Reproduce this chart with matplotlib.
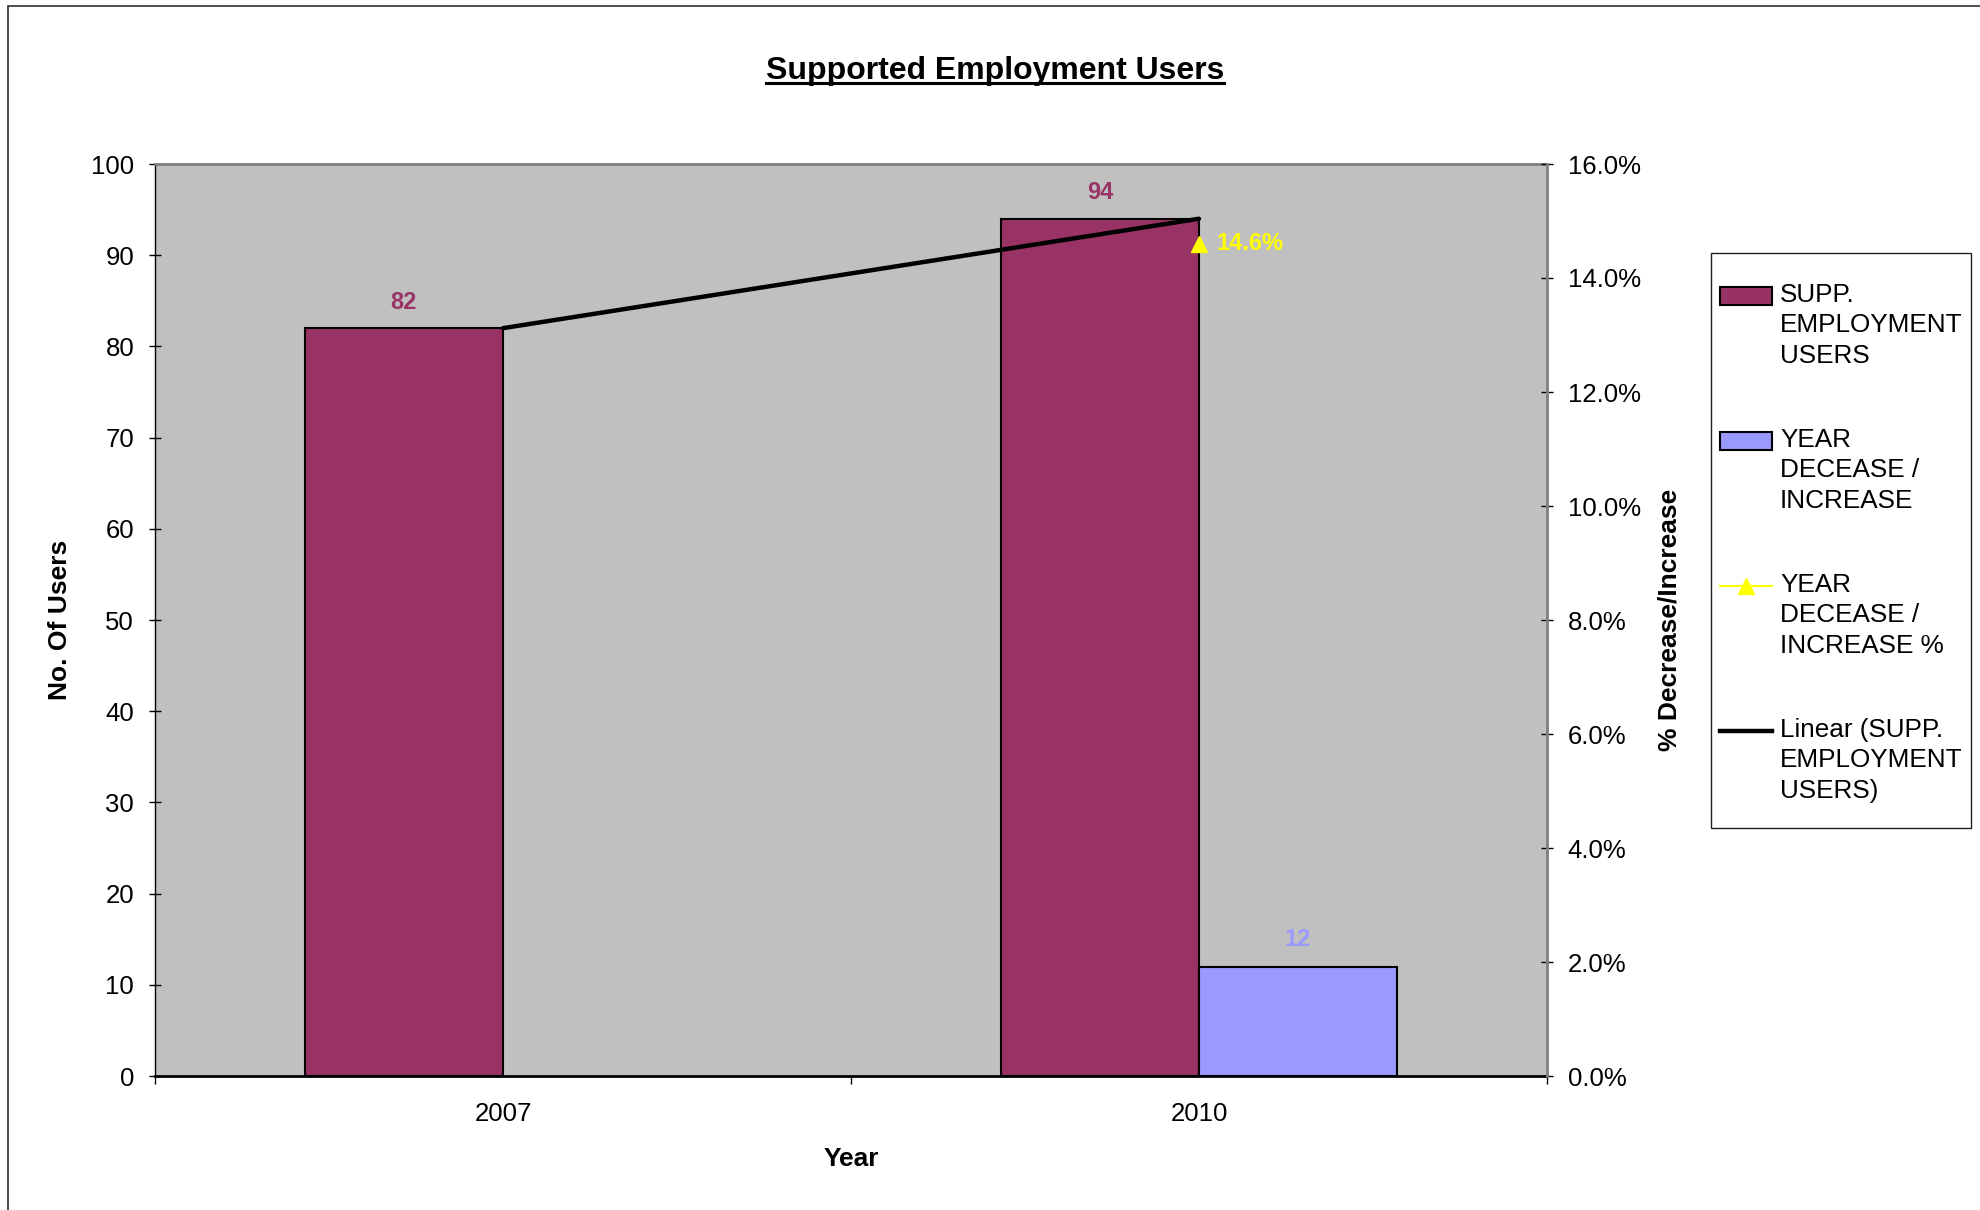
import numpy as np
import matplotlib
matplotlib.use("Agg")
import matplotlib.pyplot as plt
from matplotlib.patches import Patch, Rectangle
from matplotlib.lines import Line2D
from matplotlib.ticker import FixedLocator, FuncFormatter, NullFormatter
from matplotlib.legend_handler import HandlerPatch, HandlerLine2D
from matplotlib.transforms import Affine2D

# data
years = ["2007", "2010"]
supp_users = [82, 94]
year_change = [np.nan, 12]
year_change_pct = [np.nan, 0.146]
legend_labels = [
    "SUPP.\nEMPLOYMENT\nUSERS",
    "YEAR\nDECEASE /\nINCREASE",
    "YEAR\nDECEASE /\nINCREASE %",
    "Linear (SUPP.\nEMPLOYMENT\nUSERS)",
]

MAROON = "#993366"
LILAC = "#9999FF"
YELLOW = "#FFFF00"
PLOT_BG = "#C0C0C0"
GREY = "#808080"

plt.rcParams['font.family'] = ['Liberation Sans', 'DejaVu Sans']

W, H = 1980, 1210
fig = plt.figure(figsize=(W / 100, H / 100), dpi=100)

# pixel box of the plot area
x0, x1, y0, y1 = 155, 1547, 164, 1076
ax = fig.add_axes([x0 / W, 1 - y1 / H, (x1 - x0) / W, (y1 - y0) / H])
ax.set_facecolor(PLOT_BG)

x = np.arange(1, len(years) + 1)
bw = 0.285

ax.bar(x, supp_users, width=-bw, align='edge', color=MAROON, edgecolor='k', lw=1.5, zorder=2)
ax.bar(x, year_change, width=bw, align='edge', color=LILAC, edgecolor='k', lw=1.5, zorder=2)

# linear trend of the users series
coef = np.polyfit(x, supp_users, 1)
ax.plot(x, np.polyval(coef, x), color='k', lw=3.2, solid_capstyle='round', zorder=3)

for xi, v in zip(x, supp_users):
    ax.annotate(f"{v}", (xi - bw / 2, v), xytext=(0, 10.5), textcoords='offset points',
                ha='center', va='bottom', color=MAROON, fontsize=17, fontweight='bold')
for xi, v in zip(x, year_change):
    if np.isnan(v):
        continue
    ax.annotate(f"{v:g}", (xi + bw / 2, v), xytext=(0, 11), textcoords='offset points',
                ha='center', va='bottom', color=LILAC, fontsize=17, fontweight='bold')

ax.set_xlim(0.5, len(years) + 0.5)
ax.set_ylim(0, 100)
ax.set_yticks(np.arange(0, 101, 10))
ax.xaxis.set_major_locator(FixedLocator(np.arange(0.5, len(years) + 1, 1)))
ax.xaxis.set_major_formatter(NullFormatter())
ax.xaxis.set_minor_locator(FixedLocator(x))
ax.xaxis.set_minor_formatter(FuncFormatter(lambda v, p: years[int(round(v)) - 1]))
ax.tick_params(axis='x', which='major', direction='out', length=6, width=1)
ax.tick_params(axis='x', which='minor', length=0, pad=19, labelsize=18.5)
ax.tick_params(axis='y', direction='inout', length=9, width=1, pad=10.5, labelsize=18.5)

ax.spines['top'].set_color(GREY)
ax.spines['top'].set_linewidth(2)
ax.spines['right'].set_visible(False)
ax.spines['left'].set_linewidth(1)
ax.spines['bottom'].set_linewidth(2)

# secondary axis for the percentage change
ax2 = ax.twinx()
ax2.plot(x, year_change_pct, color=YELLOW, marker='^', ms=11, lw=1.5, zorder=4)
for xi, v in zip(x, year_change_pct):
    if np.isnan(v):
        continue
    ax2.annotate(f"{v:.1%}", (xi, v), xytext=(12.5, 0), textcoords='offset points',
                 ha='left', va='center', color=YELLOW, fontsize=17, fontweight='bold')
ax2.set_ylim(0, 0.16)
ax2.set_yticks(np.arange(0, 0.161, 0.02))
ax2.yaxis.set_major_formatter(FuncFormatter(lambda v, p: f"{v:.1%}"))
ax2.tick_params(axis='y', direction='inout', length=9, width=1, pad=10.5, labelsize=18.5)
for s in ['top', 'left', 'bottom']:
    ax2.spines[s].set_visible(False)
ax2.spines['right'].set_color(GREY)
ax2.spines['right'].set_linewidth(2)

ax.set_ylabel("No. Of Users", fontsize=19, fontweight='bold')
ax.yaxis.set_label_coords(-0.0596, 0.5)
ax2.set_ylabel("% Decrease/Increase", fontsize=19, fontweight='bold')
ax2.yaxis.set_label_coords(1.0797, 0.5)
ax.set_xlabel("Year", fontsize=19, fontweight='bold')
ax.xaxis.set_label_coords(0.5, -0.078)

title = fig.text(995 / W, 1 - 71 / H, "Supported Employment Users", ha='center', va='center',
                 fontsize=23, fontweight='bold')

# outer chart border (only left and top fall inside the image)
fig.add_artist(Rectangle((8 / W, -0.5), 1.5, 1.5 - 6 / H, transform=fig.transFigure,
                         fill=False, edgecolor='#303030', lw=1.2))

# legend: frame drawn separately, handles lifted to the first text line
LIFT = 21.5


class LiftedPatch(HandlerPatch):
    def create_artists(self, legend, orig_handle, xdescent, ydescent, width, height, fontsize, trans):
        trans = Affine2D().translate(0, LIFT) + trans
        return super().create_artists(legend, orig_handle, xdescent, ydescent, width, height, fontsize, trans)


class LiftedLine(HandlerLine2D):
    def create_artists(self, legend, orig_handle, xdescent, ydescent, width, height, fontsize, trans):
        trans = Affine2D().translate(0, LIFT) + trans
        return super().create_artists(legend, orig_handle, xdescent, ydescent, width, height, fontsize, trans)


handles = [
    Patch(facecolor=MAROON, edgecolor='k', lw=1.5),
    Patch(facecolor=LILAC, edgecolor='k', lw=1.5),
    Line2D([], [], color=YELLOW, marker='^', ms=11, lw=1.5),
    Line2D([], [], color='k', lw=3.2),
]
fig.add_artist(Rectangle((1711 / W, 1 - 828 / H), 260 / W, 575 / H, transform=fig.transFigure,
                         fill=False, edgecolor='#202020', lw=1))
leg = fig.legend(handles, legend_labels, loc='upper left', bbox_to_anchor=(1720 / W, 1 - 283 / H),
                 bbox_transform=fig.transFigure, frameon=False, borderpad=0, borderaxespad=0,
                 fontsize=18.8, handlelength=2.0, handletextpad=0.3, labelspacing=2.3,
                 handler_map={Patch: LiftedPatch(), Line2D: LiftedLine()})
for t in leg.get_texts():
    t.set_linespacing(1.34)

# underline under the title
fig.canvas.draw()
bb = title.get_window_extent().transformed(fig.transFigure.inverted())
yl = bb.y0 + 3 / H
fig.add_artist(Line2D([bb.x0, bb.x1], [yl, yl], transform=fig.transFigure, color='k', lw=2.2))

fig.savefig("out.png", dpi=100)
